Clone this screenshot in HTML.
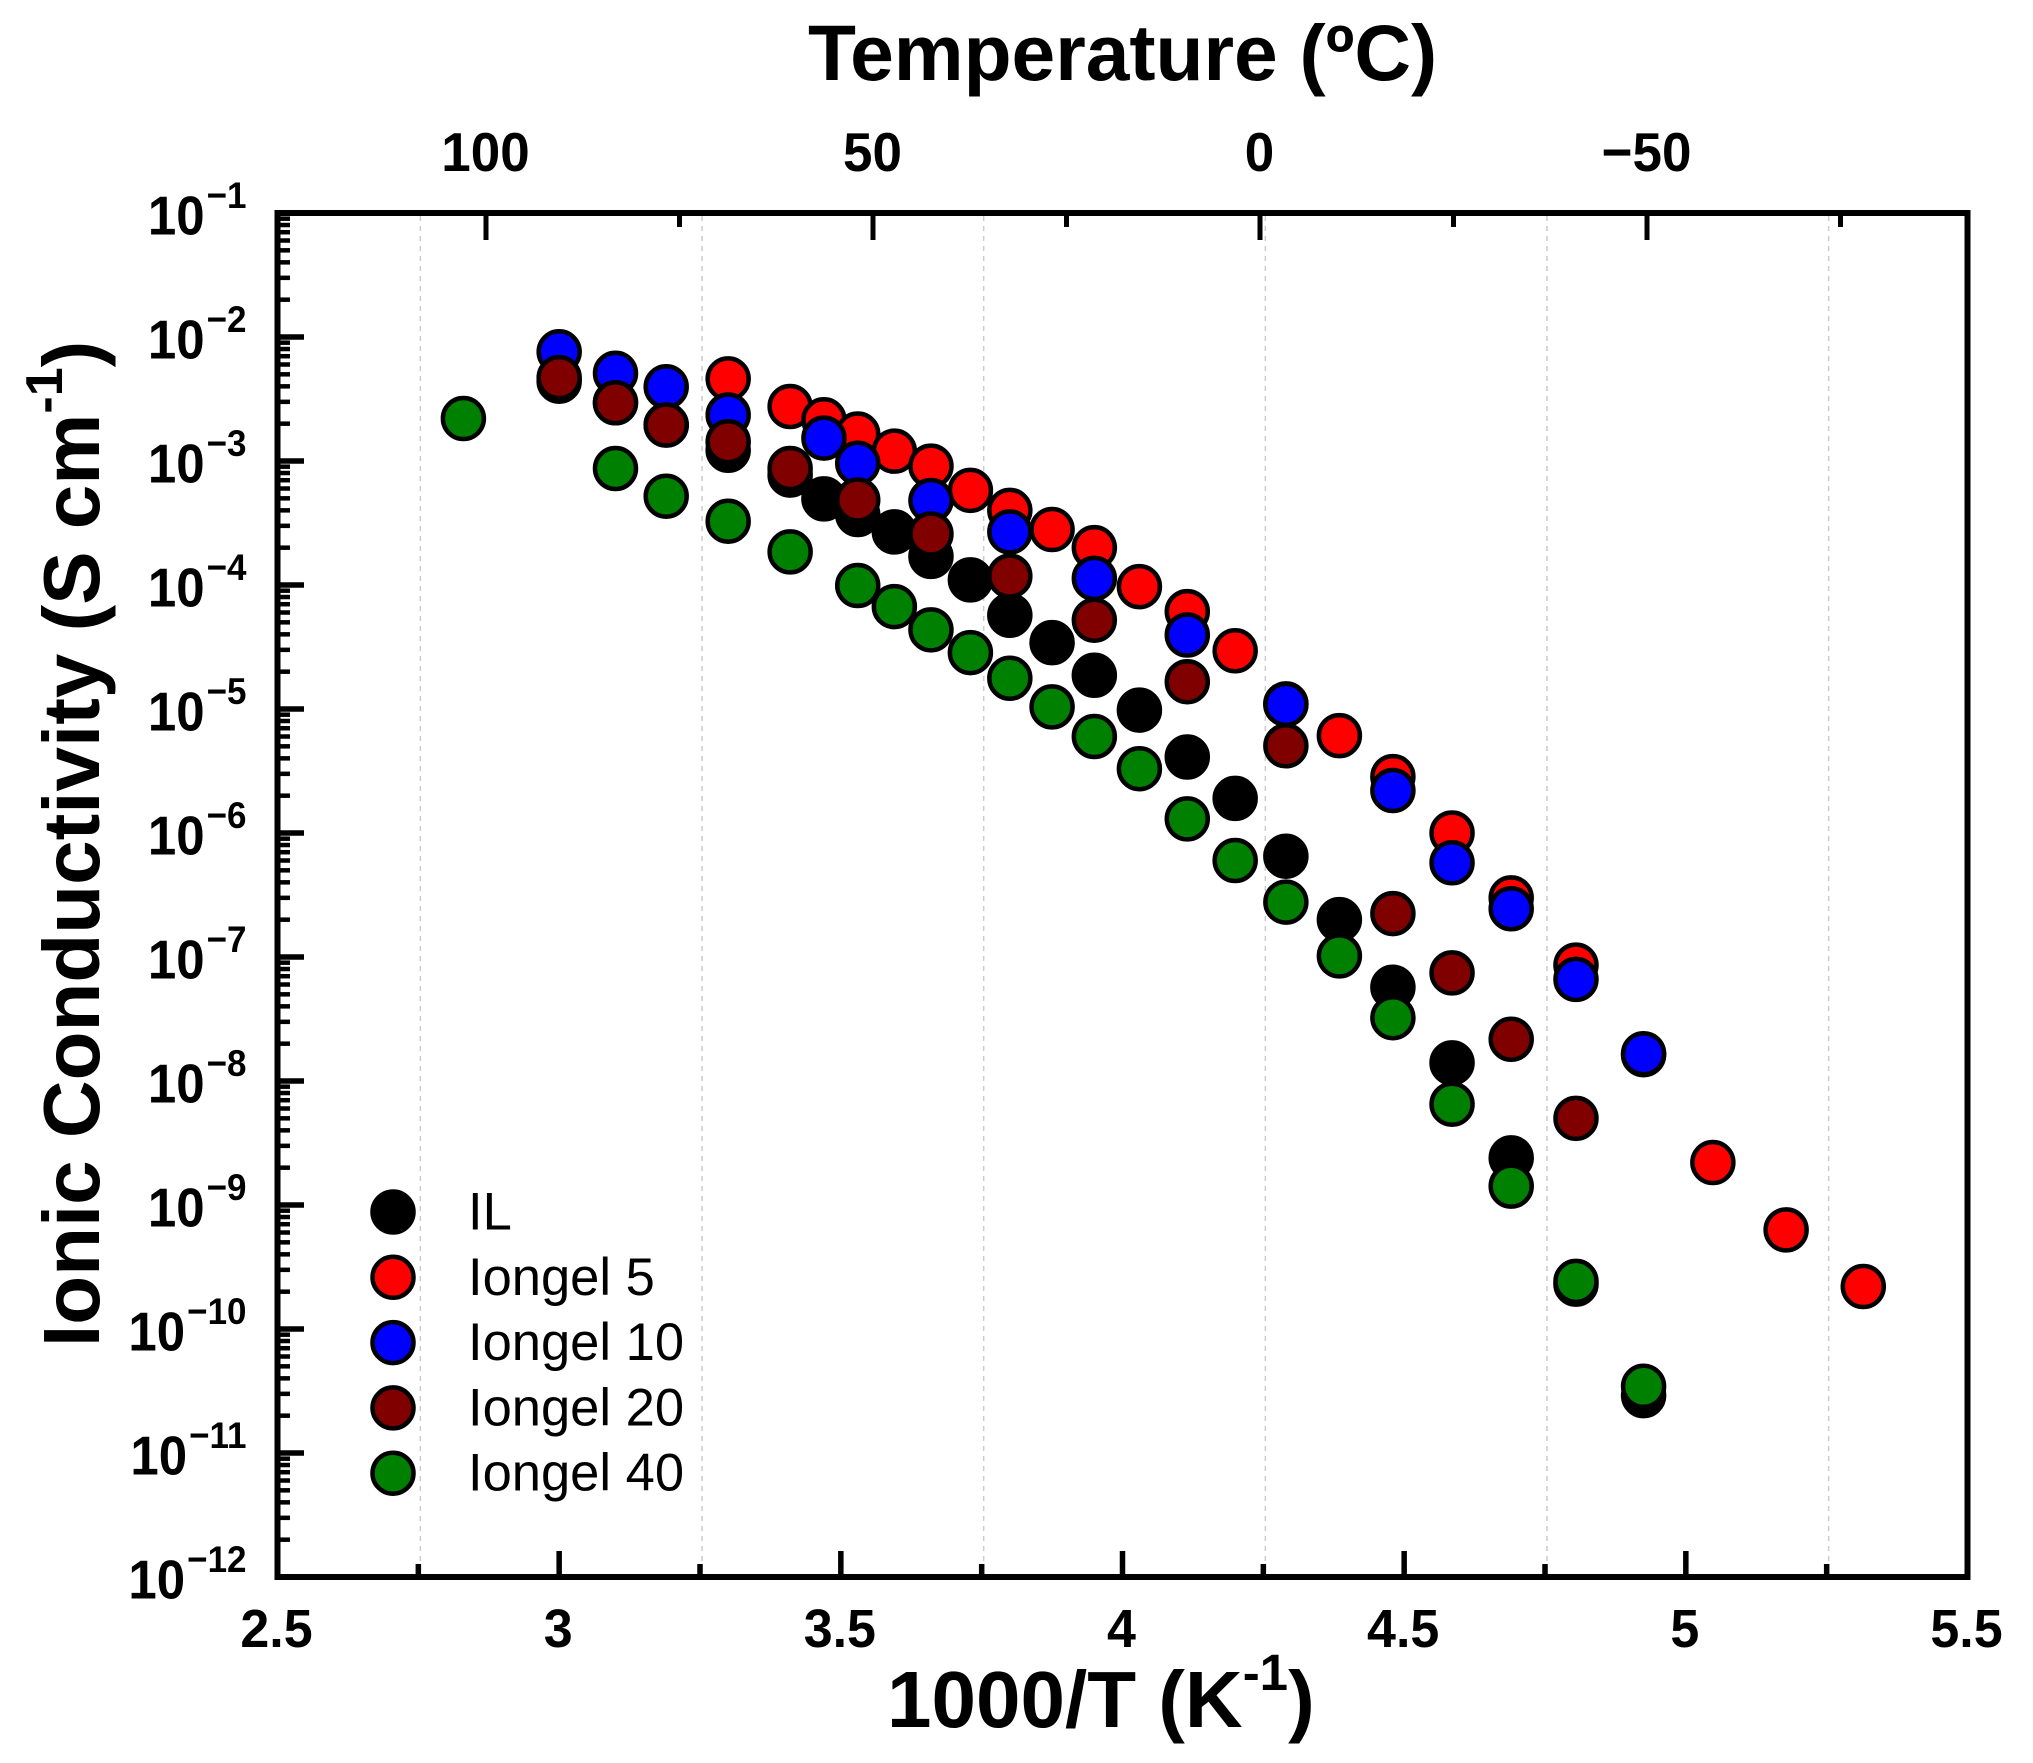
<!DOCTYPE html>
<html lang="en">
<head>
<meta charset="utf-8">
<title>Ionic Conductivity vs 1000/T</title>
<style>
html,body{margin:0;padding:0;background:#fff;}
svg{display:block;}
text{font-family:"Liberation Sans",Arial,sans-serif;fill:#000;}
.b{font-weight:bold;}
</style>
</head>
<body>
<svg id="chart" xmlns="http://www.w3.org/2000/svg" width="2033" height="1763" viewBox="0 0 2033 1763">
<rect width="2033" height="1763" fill="#fff"/>
<text class="b" x="808" y="80" font-size="78.5">Temperature (ºC)</text>
<text class="b" x="887" y="1727" font-size="80">1000/T (K<tspan font-size="51" dy="-37">-1</tspan><tspan dy="37">)</tspan></text>
<text class="b" transform="translate(99,1347) rotate(-90)" font-size="80">Ionic Conductivity (S cm<tspan font-size="52" dy="-37">-1</tspan><tspan dy="37">)</tspan></text>
</svg>
<script>
// Axis data
const xTicks = [2.5, 3, 3.5, 4, 4.5, 5, 5.5];
const xTickLabels = ["2.5", "3", "3.5", "4", "4.5", "5", "5.5"];
const xMinorTicks = [2.75, 3.25, 3.75, 4.25, 4.75, 5.25];
const yExponents = [-1, -2, -3, -4, -5, -6, -7, -8, -9, -10, -11, -12];
const topTicks = [100, 50, 0, -50];
const topTickLabels = ["100", "50", "0", "\u221250"];
const topMinorTicks = [75, 25, -25, -75];
const legendNames = ["IL", "Iongel 5", "Iongel 10", "Iongel 20", "Iongel 40"];

// Series data: 1000/T (K^-1) and conductivity (S/cm)
const ilX = [3.00,3.10,3.19,3.30,3.41,3.47,3.53,3.595,3.66,3.73,3.80,3.875,3.95,4.03,4.115,4.20,4.29,4.385,4.48,4.585,4.69,4.805,4.925];
const ilY = [4.4e-3,2.95e-3,1.95e-3,1.22e-3,7.7e-4,4.95e-4,3.7e-4,2.68e-4,1.7e-4,1.1e-4,5.7e-5,3.43e-5,1.87e-5,9.8e-6,4.1e-6,1.9e-6,6.5e-7,2.0e-7,5.7e-8,1.4e-8,2.4e-9,2.3e-10,2.9e-11];
const gel5X = [3.30,3.41,3.47,3.53,3.595,3.66,3.73,3.80,3.875,3.95,4.03,4.115,4.20,4.29,4.385,4.48,4.585,4.69,4.805,4.925,5.048,5.178,5.315];
const gel5Y = [4.6e-3,2.75e-3,2.15e-3,1.65e-3,1.2e-3,9.1e-4,5.8e-4,4.0e-4,2.8e-4,2.0e-4,9.7e-5,6.1e-5,2.95e-5,1.1e-5,6.1e-6,2.85e-6,1.0e-6,3.0e-7,8.6e-8,1.63e-8,2.2e-9,6.3e-10,2.2e-10];
const gel10X = [3.00,3.10,3.19,3.30,3.47,3.53,3.66,3.80,3.95,4.115,4.29,4.48,4.585,4.69,4.805,4.925];
const gel10Y = [7.6e-3,5.1e-3,3.97e-3,2.35e-3,1.53e-3,9.6e-4,4.8e-4,2.68e-4,1.13e-4,3.95e-5,1.09e-5,2.2e-6,5.75e-7,2.45e-7,6.6e-8,1.66e-8];
const gel20X = [3.00,3.10,3.19,3.30,3.41,3.53,3.66,3.80,3.95,4.115,4.29,4.48,4.585,4.69,4.805];
const gel20Y = [4.7e-3,2.95e-3,1.95e-3,1.43e-3,8.7e-4,4.85e-4,2.58e-4,1.18e-4,5.2e-5,1.66e-5,5.05e-6,2.24e-7,7.45e-8,2.17e-8,5.0e-9];
const gel40X = [2.83,3.10,3.19,3.30,3.41,3.53,3.595,3.66,3.73,3.80,3.875,3.95,4.03,4.115,4.20,4.29,4.385,4.48,4.585,4.69,4.805,4.925];
const gel40Y = [2.2e-3,8.7e-4,5.2e-4,3.27e-4,1.85e-4,9.9e-5,6.7e-5,4.35e-5,2.85e-5,1.77e-5,1.04e-5,6.0e-6,3.3e-6,1.3e-6,6.0e-7,2.77e-7,1.02e-7,3.24e-8,6.5e-9,1.42e-9,2.42e-10,3.45e-11];

const NS = "http://www.w3.org/2000/svg";
const svg = document.getElementById("chart");
const L = 277.5, R = 1967.5, T = 213, B = 1577;
const xMin = 2.5, xMax = 5.5, logMax = -1, logMin = -12;
const sx = v => L + (v - xMin) / (xMax - xMin) * (R - L);
const sy = v => T + (logMax - Math.log10(v)) / (logMax - logMin) * (B - T);
const st = c => 1260 - 7.74 * c;

function make(tag, attrs, parent) {
  const el = document.createElementNS(NS, tag);
  for (const k in attrs) el.setAttribute(k, attrs[k]);
  (parent || svg).appendChild(el);
  return el;
}
function group(name) {
  const g = make("g", {});
  
  
  return g;
}
function tick(parent, name, x1, y1, x2, y2, w) {
  const t = make("line", {x1, y1, x2, y2, stroke: "#000", "stroke-width": w}, parent);
  
  
}

// Gridlines
const grid = group("vertical-gridlines");
xMinorTicks.forEach(v => {
  const gl = make("line", {x1: sx(v) + 2, x2: sx(v) + 2, y1: T + 3, y2: B - 3, stroke: "#cccccc", "stroke-width": 1.5, "stroke-dasharray": "5 5"}, grid);
  
  
});

// Bottom axis
const bottomAxis = group("x-axis");
xTicks.forEach((v, i) => {
  tick(bottomAxis, "x-major-tick", sx(v), B, sx(v), 1551, 5.5);
  const t = make("text", {"text-anchor": "middle", "font-size": 52, "font-weight": "bold", transform: `translate(${sx(v) - 1},1647) scale(1,1.04)`}, bottomAxis);
  t.textContent = xTickLabels[i];
  
  
});
xMinorTicks.forEach(v => tick(bottomAxis, "x-minor-tick", sx(v), B, sx(v), 1564, 5.5));

// Top axis
const topAxis = group("top-axis");
topTicks.forEach((c, i) => {
  tick(topAxis, "top-major-tick", st(c), T, st(c), 240, 5);
  const t = make("text", {"text-anchor": "middle", "font-size": 53, "font-weight": "bold", transform: `translate(${st(c) - 0.5},171) scale(1,1.04)`}, topAxis);
  t.textContent = topTickLabels[i];
  
  
});
topMinorTicks.forEach(c => tick(topAxis, "top-minor-tick", st(c), T, st(c), 227, 5));

// Left axis
const leftAxis = group("y-axis");
yExponents.forEach(e => {
  const base = Math.pow(10, e);
  tick(leftAxis, "y-major-tick", L, sy(base), 304, sy(base), 5.5);
  if (e < -1) {
    for (let m = 2; m <= 9; m++) tick(leftAxis, "y-minor-tick", L, sy(m * base), 290, sy(m * base), 4.5);
  }
  const t = make("text", {"text-anchor": "end", "font-size": 51, "font-weight": "bold", transform: `translate(246.5,${sy(base) + 21.7}) scale(1,1.07)`}, leftAxis);
  
  
  t.appendChild(document.createTextNode("10"));
  const sup = make("tspan", {"font-size": 35, dy: -25, dx: 2}, t);
  sup.textContent = "\u2212" + Math.abs(e);
});

// Plot frame
const frame = make("rect", {x: L, y: T, width: R - L, height: B - T, fill: "none", stroke: "#000", "stroke-width": 6});



// Series (draw order: IL, 5, 10, 20, 40)
function drawSeries(name, xs, ys, color) {
  const g = group(name);
  xs.forEach((x, i) => {
    const c = make("circle", {cx: sx(x), cy: sy(ys[i]), r: 20.5, fill: color, stroke: "#000", "stroke-width": 4.5}, g);
    
    
  });
}
drawSeries("series-il", ilX, ilY, "#000000");
drawSeries("series-iongel-5", gel5X, gel5Y, "#ff0000");
drawSeries("series-iongel-10", gel10X, gel10Y, "#0000ff");
drawSeries("series-iongel-20", gel20X, gel20Y, "#800000");
drawSeries("series-iongel-40", gel40X, gel40Y, "#008000");

// Legend
const legendColors = ["#000000", "#ff0000", "#0000ff", "#800000", "#008000"];
const legend = group("legend");
legendNames.forEach((n, i) => {
  const row = make("g", {}, legend);
  
  
  const yy = 1212 + i * 65.3;
  const m = make("circle", {cx: 393, cy: yy, r: 20.5, fill: legendColors[i], stroke: "#000", "stroke-width": 4.5}, row);
  
  
  const t = make("text", {x: 468, y: yy + 17.5, "font-size": 52.5}, row);
  t.textContent = n;
  
  
});
</script>
</body>
</html>
